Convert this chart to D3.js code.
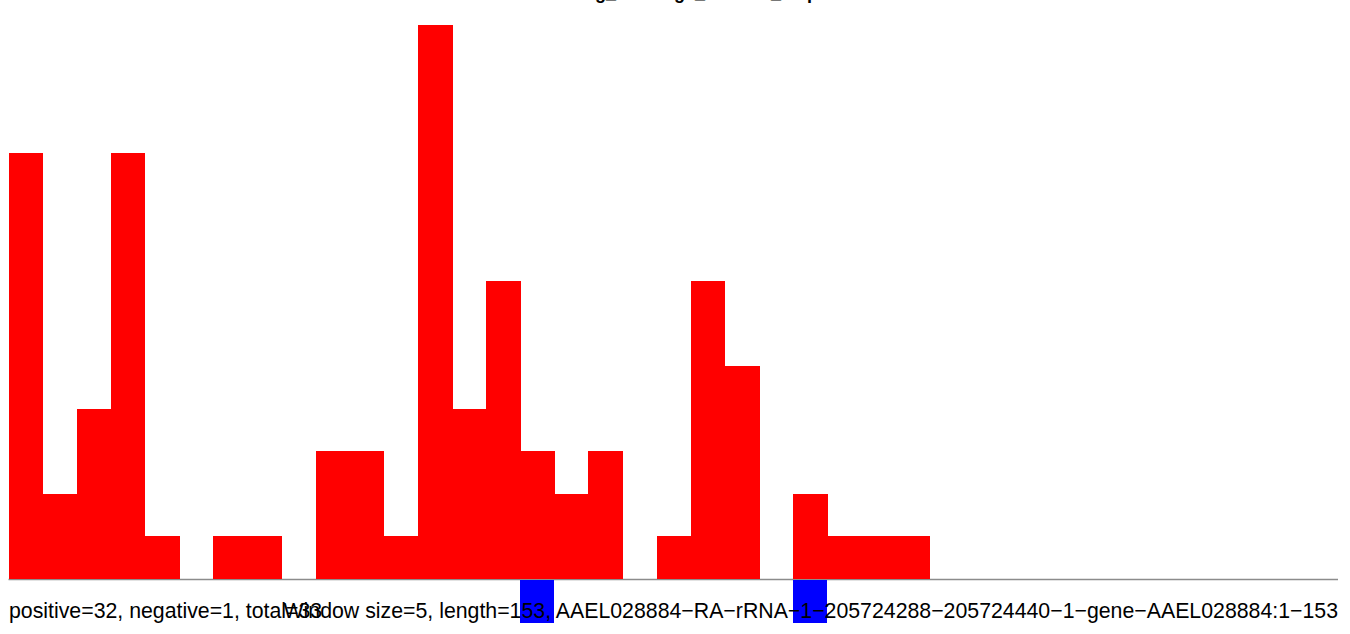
<!DOCTYPE html>
<html>
<head>
<meta charset="utf-8">
<script src="https://cdn.jsdelivr.net/npm/d3@7"></script>
<style>
  html, body { margin: 0; padding: 0; background: #fff; }
  svg { display: block; }
</style>
</head>
<body>
<svg id="chart" width="1350" height="634"></svg>
<script>
// ---- data ----
const binIndex = [0,1,2,3,4,5,6,7,8,9,10,11,12,13,14,15,16,17,18,19,20,21,22,23,24,25,26];
const positiveCounts = [10,2,4,10,1,0,1,1,0,3,3,1,13,4,7,3,2,3,0,1,7,5,0,2,1,1,1];
const negativeCounts = [0,0,0,0,0,0,0,0,0,0,0,0,0,0,0,1,0,0,0,0,0,0,0,1,0,0,0];
const xExtent = [0, 39];
const yExtent = [0, 13];
const titleText = "Sliding_coverage_window_map";
const leftLabel = "positive=32, negative=1, total=33";
const rightLabel = "Window size=5, length=153, AAEL028884\u2212RA\u2212rRNA\u22121\u2212205724288\u2212205724440\u22121\u2212gene\u2212AAEL028884:1\u2212153";

// ---- drawing ----
const svg = d3.select("#chart");

const x = d3.scaleLinear().domain(xExtent).range([8.5, 1339]);
const y = d3.scaleLinear().domain(yExtent).range([579, 25]);

const data = binIndex.map((b, i) => ({ b, pos: positiveCounts[i], neg: negativeCounts[i] }));

// baseline
svg.append("line")
  .attr("x1", x(xExtent[0])).attr("x2", 1338)
  .attr("y1", y(0) + 0.5).attr("y2", y(0) + 0.5)
  .attr("stroke", "#8c8c8c").attr("stroke-width", 1.5);

// positive bars
svg.append("g").attr("shape-rendering", "crispEdges").selectAll("rect.pos")
  .data(data.filter(d => d.pos > 0))
  .join("rect")
  .attr("class", "pos")
  .attr("x", d => x(d.b))
  .attr("width", d => x(d.b + 1) - x(d.b) + 0.5)
  .attr("y", d => y(d.pos))
  .attr("height", d => y(0) - y(d.pos))
  .attr("fill", "#ff0000");

// negative bars
svg.append("g").attr("shape-rendering", "crispEdges").selectAll("rect.neg")
  .data(data.filter(d => d.neg > 0))
  .join("rect")
  .attr("class", "neg")
  .attr("x", d => x(d.b))
  .attr("width", d => x(d.b + 1) - x(d.b))
  .attr("y", y(0) + 1)
  .attr("height", d => y(0) - y(d.neg))
  .attr("fill", "#0000ff");

// title (clipped at top as in the reference)
svg.append("text")
  .attr("x", 682).attr("y", -1)
  .attr("text-anchor", "middle")
  .attr("font-family", "Liberation Sans, Arial, sans-serif")
  .attr("font-weight", "bold")
  .attr("font-size", 18)
  .text(titleText);

// bottom labels
svg.append("text")
  .attr("x", 9).attr("y", 618)
  .attr("font-family", "Liberation Sans, Arial, sans-serif")
  .attr("font-size", 21.3)
  .attr("fill", "#000")
  .text(leftLabel);

svg.append("text")
  .attr("x", 1338).attr("y", 618)
  .attr("text-anchor", "end")
  .attr("font-family", "Liberation Sans, Arial, sans-serif")
  .attr("font-size", 21.3)
  .attr("fill", "#000")
  .text(rightLabel);
</script>
</body>
</html>
